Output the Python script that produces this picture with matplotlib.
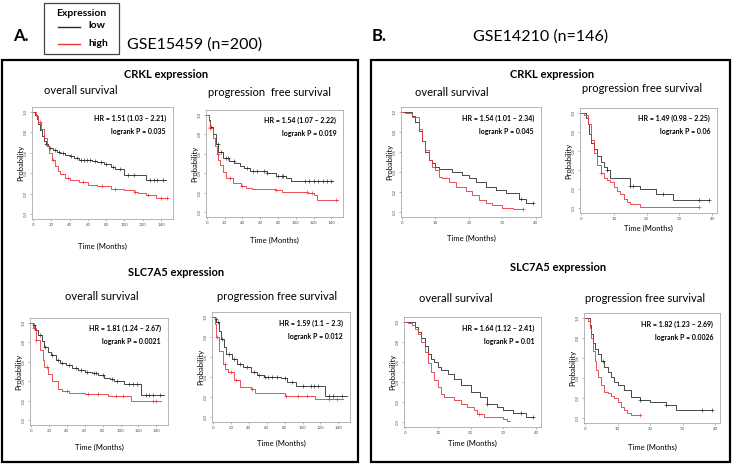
import numpy as np
import matplotlib
matplotlib.use('Agg')
import matplotlib.pyplot as plt
from matplotlib.patches import Rectangle
from matplotlib.lines import Line2D

plt.rcParams['font.family'] = ['Lato', 'DejaVu Sans']

W, H = 732, 469

# ---- survival curves (time in months, probability) ----
# GSE15459, CRKL, overall survival
a_crkl_os_low_t = [0, 2, 4, 6, 8, 10, 12, 14, 16, 18, 22, 26, 30, 35, 40, 45, 50, 60, 65, 70, 78, 85, 90, 100, 124, 145]
a_crkl_os_low_s = [1.0, 0.97, 0.93, 0.88, 0.82, 0.77, 0.72, 0.69, 0.67, 0.65, 0.63, 0.61, 0.60, 0.58, 0.57, 0.55, 0.53, 0.53, 0.52, 0.51, 0.49, 0.46, 0.44, 0.38, 0.33, 0.33]
a_crkl_os_low_c = [14, 19, 24, 29, 33, 42, 48, 53, 56, 59, 62, 68, 74, 80, 88, 95, 104, 110, 128, 132, 136, 142]
a_crkl_os_high_t = [0, 3, 6, 9, 12, 15, 18, 21, 24, 27, 30, 35, 40, 50, 60, 70, 85, 100, 110, 115, 124, 134, 148]
a_crkl_os_high_s = [1.0, 0.96, 0.90, 0.83, 0.75, 0.67, 0.60, 0.53, 0.47, 0.42, 0.39, 0.35, 0.33, 0.31, 0.28, 0.27, 0.24, 0.23, 0.22, 0.21, 0.19, 0.16, 0.16]
a_crkl_os_high_c = [8, 22, 38, 55, 75, 90, 112, 126, 140, 146]

# GSE15459, CRKL, progression free survival
a_crkl_pfs_low_t = [0, 2, 4, 7, 10, 13, 18, 25, 31, 37, 42, 49, 68, 78, 89, 95, 142]
a_crkl_pfs_low_s = [1.0, 0.95, 0.88, 0.80, 0.70, 0.62, 0.56, 0.53, 0.50, 0.47, 0.45, 0.42, 0.40, 0.37, 0.35, 0.32, 0.32]
a_crkl_pfs_low_c = [5, 12, 16, 21, 24, 30, 45, 52, 56, 64, 68, 80, 84, 86, 110, 115, 120, 125, 130, 135, 140]
a_crkl_pfs_high_t = [0, 2, 4, 7, 9, 11, 13, 15, 18, 22, 29, 38, 44, 51, 77, 84, 113, 120, 124, 147]
a_crkl_pfs_high_s = [1.0, 0.94, 0.86, 0.76, 0.68, 0.60, 0.54, 0.48, 0.41, 0.35, 0.30, 0.27, 0.25, 0.24, 0.23, 0.21, 0.20, 0.18, 0.12, 0.12]
a_crkl_pfs_high_c = [4, 12, 26, 40, 78, 112, 118, 145]

# GSE15459, SLC7A5, overall survival
a_slc_os_low_t = [0, 2.5, 5, 8, 12, 15, 19, 22.5, 28, 33, 39, 46, 53, 60, 68, 75, 82, 88, 93, 104, 123, 148]
a_slc_os_low_s = [1.0, 0.98, 0.93, 0.88, 0.81, 0.75, 0.70, 0.67, 0.62, 0.59, 0.57, 0.54, 0.52, 0.50, 0.48, 0.46, 0.43, 0.42, 0.40, 0.37, 0.26, 0.26]
a_slc_os_low_c = [4, 10, 16, 24, 30, 35, 42, 50, 56, 63, 70, 73, 80, 90, 96, 110, 114, 118, 128, 132, 136, 144]
a_slc_os_high_t = [0, 2.5, 6, 10, 13, 15, 19, 24, 30, 35, 42, 60, 86, 112, 145]
a_slc_os_high_s = [1.0, 0.95, 0.82, 0.72, 0.62, 0.55, 0.47, 0.40, 0.32, 0.30, 0.28, 0.27, 0.25, 0.20, 0.20]
a_slc_os_high_c = [3, 6, 18, 40, 64, 75, 95, 103, 136, 140]

# GSE15459, SLC7A5, progression free survival
a_slc_pfs_low_t = [0, 2, 4, 7, 9.5, 12, 15, 21, 26.5, 34, 42, 49, 57, 76, 83, 93, 125, 150]
a_slc_pfs_low_s = [1.0, 0.98, 0.95, 0.86, 0.78, 0.70, 0.63, 0.58, 0.53, 0.50, 0.45, 0.42, 0.40, 0.39, 0.35, 0.31, 0.21, 0.21]
a_slc_pfs_low_c = [3, 6, 10, 18, 24, 30, 38, 46, 52, 58, 62, 66, 72, 80, 88, 100, 110, 113, 117, 130, 134, 144]
a_slc_pfs_high_t = [0, 2, 4, 7, 11, 14, 17, 23, 30, 42, 47, 80, 114, 145]
a_slc_pfs_high_s = [1.0, 0.93, 0.80, 0.66, 0.53, 0.48, 0.45, 0.37, 0.30, 0.28, 0.24, 0.21, 0.18, 0.18]
a_slc_pfs_high_c = [5, 13, 20, 26, 44, 82, 95, 105, 130, 138]

# GSE14210, CRKL, overall survival
b_crkl_os_low_t = [0, 3, 4, 5, 6, 7, 8, 9, 10, 11, 15, 18, 20, 22, 25, 28, 31, 35, 37, 39]
b_crkl_os_low_s = [1.0, 0.96, 0.90, 0.81, 0.71, 0.60, 0.52, 0.49, 0.45, 0.43, 0.40, 0.37, 0.34, 0.30, 0.25, 0.22, 0.19, 0.13, 0.09, 0.09]
b_crkl_os_low_c = [35.5, 39]
b_crkl_os_high_t = [0, 1, 3, 5, 6, 7, 8, 9, 10, 11, 12, 14, 16, 19, 21, 23, 25, 27, 30, 33, 36]
b_crkl_os_high_s = [1.0, 0.99, 0.95, 0.83, 0.71, 0.62, 0.52, 0.45, 0.42, 0.35, 0.34, 0.30, 0.25, 0.21, 0.17, 0.12, 0.09, 0.07, 0.04, 0.03, 0.03]
b_crkl_os_high_c = [36]

# GSE14210, CRKL, progression free survival
b_crkl_pfs_low_t = [0, 1.5, 2, 2.5, 3, 4, 5, 6, 7, 8, 9, 15, 18, 23, 28, 39]
b_crkl_pfs_low_s = [1.0, 0.95, 0.88, 0.78, 0.68, 0.62, 0.55, 0.48, 0.43, 0.40, 0.32, 0.23, 0.20, 0.15, 0.09, 0.09]
b_crkl_pfs_low_c = [8, 15, 16, 25, 36, 39]
b_crkl_pfs_high_t = [0, 1, 2, 3, 4, 5, 6, 7, 8, 9, 10, 11, 12, 13, 14, 15, 18, 36]
b_crkl_pfs_high_s = [1.0, 0.98, 0.88, 0.72, 0.58, 0.45, 0.37, 0.32, 0.30, 0.27, 0.22, 0.18, 0.15, 0.10, 0.07, 0.04, 0.01, 0.01]
b_crkl_pfs_high_c = [6, 36]

# GSE14210, SLC7A5, overall survival
b_slc_os_low_t = [0, 3, 4, 5, 6, 7, 8, 9, 10, 11, 13, 15, 17, 20, 23, 25, 28, 30, 33, 37, 39]
b_slc_os_low_s = [1.0, 0.95, 0.90, 0.84, 0.76, 0.68, 0.63, 0.60, 0.55, 0.52, 0.48, 0.43, 0.37, 0.30, 0.25, 0.18, 0.15, 0.12, 0.09, 0.05, 0.05]
b_slc_os_low_c = [25, 35.5, 39]
b_slc_os_high_t = [0, 1, 2, 3, 4, 5, 6, 7, 8, 9, 10, 11, 12, 15, 17, 19, 21, 22, 24, 30, 31, 32]
b_slc_os_high_s = [1.0, 0.99, 0.97, 0.93, 0.88, 0.80, 0.70, 0.59, 0.50, 0.42, 0.35, 0.28, 0.25, 0.22, 0.18, 0.15, 0.12, 0.08, 0.05, 0.03, 0.01, 0.01]
b_slc_os_high_c = [22.5]

# GSE14210, SLC7A5, progression free survival
b_slc_pfs_low_t = [0, 1.5, 2, 2.5, 3, 4, 5, 6, 7, 8, 9, 10, 12, 14, 17, 20, 25, 28, 39]
b_slc_pfs_low_s = [1.0, 0.93, 0.84, 0.75, 0.69, 0.64, 0.57, 0.51, 0.46, 0.41, 0.36, 0.33, 0.28, 0.21, 0.18, 0.16, 0.13, 0.08, 0.08]
b_slc_pfs_low_c = [5.5, 17, 25, 36, 39]
b_slc_pfs_high_t = [0, 1, 1.5, 2, 2.5, 3, 3.5, 4, 5, 6, 7, 8, 9, 10, 11, 12, 13, 14, 17]
b_slc_pfs_high_s = [1.0, 0.97, 0.90, 0.80, 0.67, 0.57, 0.48, 0.41, 0.33, 0.26, 0.25, 0.22, 0.20, 0.16, 0.11, 0.08, 0.05, 0.03, 0.03]
b_slc_pfs_high_c = [17]

hr_text = {'a_crkl_os': ('HR = 1.51 (1.03 \u2013 2.21)', 'logrank P = 0.035'),
           'a_crkl_pfs': ('HR = 1.54 (1.07 \u2013 2.22)', 'logrank P = 0.019'),
           'a_slc_os': ('HR = 1.81 (1.24 \u2013 2.67)', 'logrank P = 0.0021'),
           'a_slc_pfs': ('HR = 1.59 (1.1 \u2013 2.3)', 'logrank P = 0.012'),
           'b_crkl_os': ('HR = 1.54 (1.01 \u2013 2.34)', 'logrank P = 0.045'),
           'b_crkl_pfs': ('HR = 1.49 (0.98 \u2013 2.25)', 'logrank P = 0.06'),
           'b_slc_os': ('HR = 1.64 (1.12 \u2013 2.41)', 'logrank P = 0.01'),
           'b_slc_pfs': ('HR = 1.82 (1.23 \u2013 2.69)', 'logrank P = 0.0026'),
           }

# ---- layout in pixels: axes box (l, t, r, b), subtitle (x, y), xlabel y ----
panels = [
    dict(key='a_crkl_os', box=(32, 107, 173, 219), sub=('overall survival', 81, 91), xl=246, study='a',
         low=(a_crkl_os_low_t, a_crkl_os_low_s, a_crkl_os_low_c), high=(a_crkl_os_high_t, a_crkl_os_high_s, a_crkl_os_high_c)),
    dict(key='a_crkl_pfs', box=(206, 110, 343, 217), sub=('progression  free survival', 270, 92), xl=240, study='a',
         low=(a_crkl_pfs_low_t, a_crkl_pfs_low_s, a_crkl_pfs_low_c), high=(a_crkl_pfs_high_t, a_crkl_pfs_high_s, a_crkl_pfs_high_c)),
    dict(key='a_slc_os', box=(30, 318, 168, 425), sub=('overall survival', 102, 297), xl=447, study='a',
         low=(a_slc_os_low_t, a_slc_os_low_s, a_slc_os_low_c), high=(a_slc_os_high_t, a_slc_os_high_s, a_slc_os_high_c)),
    dict(key='a_slc_pfs', box=(212, 312, 350, 422), sub=('progression free survival', 277, 297), xl=443, study='a',
         low=(a_slc_pfs_low_t, a_slc_pfs_low_s, a_slc_pfs_low_c), high=(a_slc_pfs_high_t, a_slc_pfs_high_s, a_slc_pfs_high_c)),
    dict(key='b_crkl_os', box=(401, 107, 541, 217), sub=('overall survival', 452, 92), xl=238, study='b',
         low=(b_crkl_os_low_t, b_crkl_os_low_s, b_crkl_os_low_c), high=(b_crkl_os_high_t, b_crkl_os_high_s, b_crkl_os_high_c)),
    dict(key='b_crkl_pfs', box=(580, 108, 717, 213), sub=('progression free survival', 642, 88), xl=228, study='b',
         low=(b_crkl_pfs_low_t, b_crkl_pfs_low_s, b_crkl_pfs_low_c), high=(b_crkl_pfs_high_t, b_crkl_pfs_high_s, b_crkl_pfs_high_c)),
    dict(key='b_slc_os', box=(404, 317, 541, 427), sub=('overall survival', 456, 299), xl=443, study='b',
         low=(b_slc_os_low_t, b_slc_os_low_s, b_slc_os_low_c), high=(b_slc_os_high_t, b_slc_os_high_s, b_slc_os_high_c)),
    dict(key='b_slc_pfs', box=(584, 313, 720, 423), sub=('progression free survival', 645, 299), xl=447, study='b',
         low=(b_slc_pfs_low_t, b_slc_pfs_low_s, b_slc_pfs_low_c), high=(b_slc_pfs_high_t, b_slc_pfs_high_s, b_slc_pfs_high_c)),
]

study_conf = {'a': {'xlim': (-1, 153), 'xticks': np.arange(0, 141, 20)},
              'b': {'xlim': (-0.3, 41.5), 'xticks': np.arange(0, 41, 10)}}

clr_low = '#2b2b2b'
clr_high = '#e8343a'


def fx(x):
    return x / W


def fy(y):
    return 1 - y / H


def km_plot(ax, t, s, cens, clr):
    ax.step(t, s, where='post', color=clr, lw=0.6)
    t = np.asarray(t)
    s = np.asarray(s)
    idx = np.searchsorted(t, cens, side='right') - 1
    ax.plot(cens, s[idx], ls='none', marker='+', ms=2.2, mew=0.45, color=clr)


fig = plt.figure(figsize=(W / 100, H / 100), dpi=100)

# outer boxes
for (l, t, r, b) in [(2, 60, 358, 462), (371, 60, 730, 462)]:
    fig.patches.append(Rectangle((fx(l), fy(b)), fx(r - l), (b - t) / H, transform=fig.transFigure,
                                 fill=False, ec='black', lw=1.6))

# legend box
fig.patches.append(Rectangle((fx(44), fy(54)), fx(75), 51 / H, transform=fig.transFigure,
                             fill=False, ec='#444444', lw=0.9))
fig.text(fx(81), fy(13), 'Expression', ha='center', va='center', fontsize=7.5, fontweight='bold')
fig.lines.append(Line2D([fx(58), fx(80)], [fy(27), fy(27)], transform=fig.transFigure, color=clr_low, lw=1))
fig.lines.append(Line2D([fx(58), fx(80)], [fy(44), fy(44)], transform=fig.transFigure, color=clr_high, lw=1))
fig.text(fx(88), fy(26), 'low', ha='left', va='center', fontsize=7.5, fontweight='bold')
fig.text(fx(88), fy(43), 'high', ha='left', va='center', fontsize=7.5, fontweight='bold')

# headers
fig.text(fx(13), fy(36), 'A.', ha='left', va='center', fontsize=12, fontweight='bold')
fig.text(fx(127), fy(45), 'GSE15459 (n=200)', ha='left', va='center', fontsize=11.5)
fig.text(fx(372), fy(36), 'B.', ha='left', va='center', fontsize=12, fontweight='bold')
fig.text(fx(541), fy(37), 'GSE14210 (n=146)', ha='center', va='center', fontsize=11.5)

fig.text(fx(166), fy(74), 'CRKL expression', ha='center', va='center', fontsize=8, fontweight='bold')
fig.text(fx(552), fy(74), 'CRKL expression', ha='center', va='center', fontsize=8, fontweight='bold')
fig.text(fx(176), fy(272), 'SLC7A5 expression', ha='center', va='center', fontsize=8, fontweight='bold')
fig.text(fx(558), fy(267), 'SLC7A5 expression', ha='center', va='center', fontsize=8, fontweight='bold')

for p in panels:
    l, t, r, b = p['box']
    ax = fig.add_axes([fx(l), fy(b), fx(r - l), (b - t) / H])
    sc = study_conf[p['study']]
    km_plot(ax, *p['low'], clr_low)
    km_plot(ax, *p['high'], clr_high)
    ax.set_xlim(*sc['xlim'])
    ax.set_ylim(-0.05, 1.05)
    ax.set_xticks(sc['xticks'])
    ax.set_yticks(np.arange(0, 1.01, 0.2))
    ax.set_yticklabels(['%.1f' % v for v in np.arange(0, 1.01, 0.2)], rotation=90, va='center')
    ax.tick_params(labelsize=3.2, labelcolor='#555555', length=1.5, width=0.4, color='#888888', pad=1.5)
    for sp in ax.spines.values():
        sp.set_color('#999999')
        sp.set_linewidth(0.5)
    hr, lr = hr_text[p['key']]
    ax.text(0.95, 0.9, hr, transform=ax.transAxes, ha='right', va='center', fontsize=5, fontweight='bold')
    ax.text(0.95, 0.78, lr, transform=ax.transAxes, ha='right', va='center', fontsize=5, fontweight='bold')

    name, sx, sy = p['sub']
    fig.text(fx(sx), fy(sy), name, ha='center', va='center', fontsize=8)
    fig.text(fx((l + r) / 2), fy(p['xl']), 'Time (Months)', ha='center', va='center', fontsize=5.5)
    fig.text(fx(l - 11), fy((t + b) / 2), 'Probability', ha='center', va='center', rotation=90, fontsize=5.5)

fig.savefig('out.png', dpi=100)
plt.close()
